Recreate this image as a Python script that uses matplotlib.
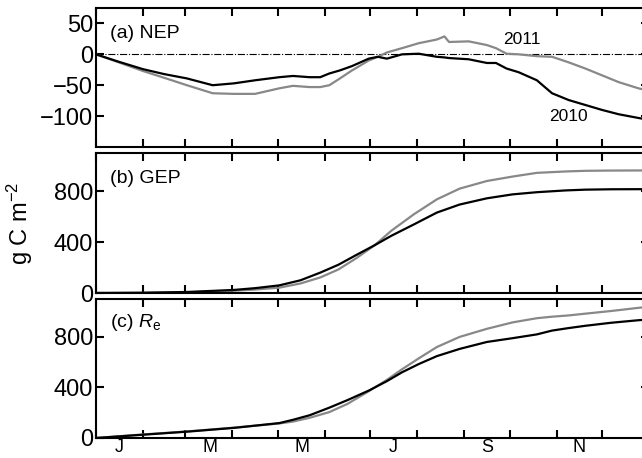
import matplotlib.pyplot as plt

plt.rcParams['font.family'] = ['Liberation Sans', 'DejaVu Sans']
plt.rcParams['mathtext.fontset'] = 'custom'
plt.rcParams['mathtext.rm'] = 'Liberation Sans'
plt.rcParams['mathtext.it'] = 'Liberation Sans:italic'

# day of year and cumulative fluxes (g C m-2)
nep_days = [0, 15, 31, 45, 60, 77, 91, 105, 121, 130, 141, 148, 154, 161, 169, 180, 186, 192,
            202, 213, 225, 230, 233, 246, 258, 264, 271, 279, 291, 301, 312, 323, 334, 345, 358, 365]
nep_2010 = [0, -12, -24, -32, -39, -50, -47, -42, -37, -35, -37, -37, -31, -26, -19, -7, -4, -7,
            0, 1, -4, -5, -6, -8, -14, -14, -23, -29, -42, -63, -74, -82, -90, -97, -103, -106]
nep_2011 = [0, -13, -27, -38, -50, -63, -64, -64, -55, -51, -53, -53, -50, -39, -26, -10, -4, 3,
            10, 18, 24, 29, 20, 21, 15, 10, 1, 0, -3, -4, -13, -23, -34, -45, -55, -59]

gep_days = [0, 31, 60, 91, 105, 121, 135, 148, 160, 172, 184, 195, 210, 225, 240, 258, 275,
            291, 310, 323, 340, 365]
gep_2010 = [0, 2, 8, 24, 38, 60, 100, 160, 222, 300, 376, 450, 540, 632, 695, 744, 775,
            792, 806, 812, 815, 816]
gep_2011 = [0, 1, 5, 18, 27, 42, 75, 122, 185, 275, 376, 490, 620, 736, 820, 880, 915,
            944, 955, 960, 962, 963]

re_days = [0, 31, 60, 91, 121, 130, 141, 154, 166, 180, 192, 202, 213, 225, 240, 258, 275,
           291, 301, 312, 323, 340, 358, 365]
re_2010 = [0, 26, 50, 80, 118, 144, 180, 240, 300, 375, 450, 520, 585, 648, 705, 760, 790,
           820, 850, 870, 888, 912, 932, 938]
re_2011 = [0, 28, 52, 82, 115, 130, 160, 205, 270, 370, 460, 544, 630, 720, 800, 864, 915,
           948, 960, 970, 984, 1005, 1030, 1038]

month_starts = [0, 31, 59, 90, 120, 151, 181, 212, 243, 273, 304, 334]
label_days = [15, 75, 136, 196, 258, 319]
month_labels = ['J', 'M', 'M', 'J', 'S', 'N']

c2010 = 'black'
c2011 = '#888888'

fig = plt.figure(figsize=(6.42, 4.58), dpi=100)
left, width = 96 / 642, 553 / 642
ax1 = fig.add_axes([left, 1 - 147 / 458, width, 139 / 458])
ax2 = fig.add_axes([left, 1 - 293 / 458, width, 140 / 458])
ax3 = fig.add_axes([left, 1 - 438 / 458, width, 139 / 458])

ax1.axhline(0, color='black', lw=0.8, ls='-.')
ax1.plot(nep_days, nep_2011, color=c2011, lw=1.6)
ax1.plot(nep_days, nep_2010, color=c2010, lw=1.6)
ax1.set_ylim(-150, 75)
ax1.set_yticks([-100, -50, 0, 50])
ax1.text(281, 24, '2011', fontsize=12.5, ha='center', va='center')
ax1.text(312, -101, '2010', fontsize=12.5, ha='center', va='center')
ax1.text(0.025, 0.82, '(a) NEP', transform=ax1.transAxes, fontsize=14, va='center')

ax2.plot(gep_days, gep_2011, color=c2011, lw=1.6)
ax2.plot(gep_days, gep_2010, color=c2010, lw=1.6)
ax2.set_ylim(0, 1100)
ax2.set_yticks([0, 400, 800])
ax2.text(0.025, 0.82, '(b) GEP', transform=ax2.transAxes, fontsize=14, va='center')

ax3.plot(re_days, re_2011, color=c2011, lw=1.6)
ax3.plot(re_days, re_2010, color=c2010, lw=1.6)
ax3.set_ylim(0, 1100)
ax3.set_yticks([0, 400, 800])
ax3.text(0.025, 0.83, r'(c) $R_{\mathrm{e}}$', transform=ax3.transAxes, fontsize=14, va='center')

for ax in (ax1, ax2, ax3):
    ax.set_xlim(0, 365)
    ax.set_xticks(month_starts)
    ax.set_xticklabels([])
    ax.set_xticks(label_days, minor=True)
    ax.set_xticklabels([], minor=True)
    ax.tick_params(which='major', direction='in', length=6, width=1.5,
                   top=True, right=True, labelsize=17, pad=2)
    ax.tick_params(which='minor', length=0)
    for s in ax.spines.values():
        s.set_linewidth(1.5)

ax3.set_xticklabels(month_labels, minor=True, fontsize=13)
ax3.tick_params(which='minor', pad=1)

fig.text(0.031, 1 - 223 / 458, r'g C m$^{-2}$', rotation=90, fontsize=17,
         ha='center', va='center')

fig.savefig('out.png', dpi=100)
